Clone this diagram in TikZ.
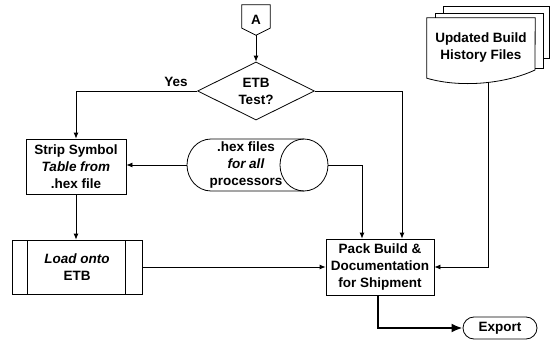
\documentclass[tikz,border=0pt]{standalone}
\usepackage{fontspec}
\setmainfont{Liberation Sans}
\usetikzlibrary{arrows.meta, shapes.geometric}

\begin{document}
\begin{tikzpicture}[x=1pt, y=-1pt,
		every node/.style={font=\fontsize{13.5}{17}\selectfont\bfseries, align=center, inner sep=0pt},
		wire/.style={line width=0.8pt},
		flow/.style={wire, -{Latex[length=6pt, width=5pt]}},
		box/.style={draw, wire, minimum width=100pt, minimum height=55pt},
		predef/.style={box, path picture={
				\draw[wire] ([xshift=15pt]path picture bounding box.north west) -- ([xshift=15pt]path picture bounding box.south west);
				\draw[wire] ([xshift=-17pt]path picture bounding box.north east) -- ([xshift=-17pt]path picture bounding box.south east);}}]
	\useasboundingbox (0,0) rectangle (558,340);
	% Paths, nodes and wires:
	\node[minimum width=28pt, minimum height=30pt](A) at (256,20){A};
	\draw[wire] (A.north west) -- (A.north east) -- ([yshift=7pt]A.south east) -- (A.south) -- ([yshift=7pt]A.south west) -- cycle;
	\node[draw, wire, diamond, aspect=2, minimum width=117pt, minimum height=58pt](test) at (256,91){ETB\\Test?};
	\node[box](strip) at (76,166.5){Strip Symbol\\\textit{Table from}\\.hex file};
	\node(hex) at (246,165){.hex files\\\textit{for all}\\processors};
	\node[predef, minimum width=130pt, minimum height=54pt](load) at (77,267){\textit{Load onto}\\ETB};
	\node[box, minimum width=108pt, minimum height=56pt](pack) at (380,267){Pack Build \&\\Documentation\\for Shipment};
	\node[minimum width=108pt, minimum height=60pt](hist) at (481,48){Updated Build\\History Files};
	\node[draw, wire, rounded corners=11pt, minimum width=74pt, minimum height=22pt](export) at (500,328){Export};
	\node(yes) at (176,82){Yes};
	% storage drum round the hex files
	\draw[wire] (304,139) -- (211,139) arc[start angle=90, end angle=270, x radius=24pt, y radius=26pt] -- (304,191);
	\draw[wire] (304,165) ellipse [x radius=24pt, y radius=26pt];
	\coordinate (hexW) at (187,165);
	\coordinate (hexE) at (328,165);
	% document stack behind the history files
	\draw[wire] (443,13) -- (443,6) -- (549,6) -- (549,58) -- (543,58);
	\draw[wire] (435,18) -- (435,13) -- (543,13) -- (543,68) -- (535,68);
	\draw[wire] (hist.north west) -- (hist.north east) -- (535,70) .. controls (505,84) and (460,88) .. (hist.south west) -- cycle;
	\coordinate (hbot) at (488,82.5);
	% connectors
	\draw[flow] (A.south) -- (test.north);
	\draw[flow] (test.west) -| (strip.north);
	\draw[flow] (test.east) -| ([xshift=22pt]pack.north);
	\draw[flow] (hexE) -| ([xshift=-18pt]pack.north);
	\draw[flow] (hexW) -- (strip.east |- hexW);
	\draw[flow] (strip.south) -- (strip.south |- load.north);
	\draw[flow] (load.east) -- (pack.west);
	\draw[flow] (hbot) |- (pack.east);
	\draw[line width=2.5pt, -{Latex[length=11pt, width=9pt]}] ([xshift=-2pt]pack.south) |- (export.west);
\end{tikzpicture}
\end{document}
